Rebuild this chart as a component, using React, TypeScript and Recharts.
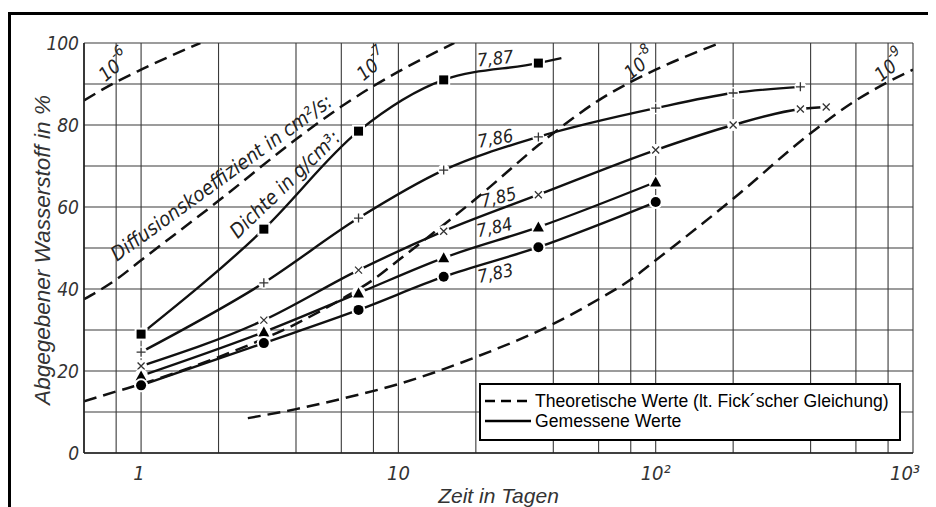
import React from 'react';
import { LineChart, Line, XAxis, YAxis, CartesianGrid, Legend, ReferenceDot } from 'recharts';

// ---------- axis ticks ----------
const xGridTicks = [0.6, 0.8, 1, 2, 4, 6, 8, 10, 20, 40, 60, 80, 100, 200, 400, 600, 800, 1000];
const xTickText: Record<string, string> = { '1': '1', '10': '10', '100': '10²', '1000': '10³' };
const yGridTicks = [0, 10, 20, 30, 40, 50, 60, 70, 80, 90, 100];
const yTickText: Record<string, string> = { '0': '0', '20': '20', '40': '40', '60': '60', '80': '80', '100': '100' };

const xTitle = 'Zeit in Tagen';
const yTitle = 'Abgegebener Wasserstoff in %';
const legendLabels = ['Theoretische Werte (lt. Fick´scher Gleichung)', 'Gemessene Werte'];

// ---------- measured values (Gemessene Werte) ----------
const days787 = [1, 3, 7, 15, 35, 43];
const vals787 = [29, 54.6, 78.5, 91, 95.1, 96.3];
const mark787 = [true, true, true, true, true, false];

const days786 = [1, 3, 7, 15, 35, 100, 200, 365];
const vals786 = [24.6, 41.5, 57.3, 69, 77.1, 84.1, 87.8, 89.3];

const days785 = [1, 3, 7, 15, 35, 100, 200, 365, 460];
const vals785 = [21.2, 32.4, 44.6, 54.1, 63, 73.9, 80, 83.9, 84.4];

const days784 = [1, 3, 7, 15, 35, 100];
const vals784 = [18.8, 29.5, 39, 47.6, 55.1, 66.1];

const days783 = [1, 3, 7, 15, 35, 100];
const vals783 = [16.5, 26.8, 34.9, 43, 50.2, 61.2];

// ---------- theoretical values (Fick) ----------
const daysD6 = [0.6, 0.8, 1, 1.7];
const valsD6 = [86, 90.5, 93.5, 100];

const daysD7 = [0.6, 0.8, 1, 2, 4, 6, 8, 10, 16.5];
const valsD7 = [37.5, 42.3, 47, 61.5, 76.5, 84.5, 89.5, 93, 100];

const daysD8 = [0.6, 0.8, 1, 2, 4, 6, 8, 10, 20, 40, 60, 80, 100, 178];
const valsD8 = [12.6, 15, 16.8, 23.4, 31.5, 37.5, 42.3, 47, 62, 78, 86, 90.5, 93.5, 100];

const daysD9 = [2.6, 4, 6, 10, 20, 40, 60, 80, 100, 200, 400, 600, 800, 1000];
const valsD9 = [8.5, 10.7, 13.2, 16.8, 23.4, 31.5, 37.5, 42.3, 47, 62, 78, 86, 90.5, 93.5];

// ---------- annotation labels (text, anchor in data units, angle) ----------
const densityLabels = ['7,87', '7,86', '7,85', '7,84', '7,83'];
const densityAtDay = [23.8, 23.8, 24.5, 23.6, 23.8];
const densityAtPct = [96.3, 76.8, 62.4, 55.1, 43.9];
const densityAngle = [-6, -10, -14, -12, -12];

const coefExp = ['-6', '-7', '-8', '-9'];
const coefAtDay = [0.785, 7.9, 86.7, 814];
const coefAtPct = [94.4, 94.6, 94.9, 94.4];

const noteTexts = ['Diffusionskoeffizient in cm²/s:', 'Dichte in g/cm³:'];
const noteAtDay = [2.05, 3.62];
const noteAtPct = [67.2, 65.6];
const noteAngle = [-36, -44];

const zip = (xs: number[], ys: number[], ms?: boolean[]) =>
  xs.map((x, i) => ({ x, y: ys[i], m: ms ? ms[i] : true }));

const measured = [
  { name: '7,87', data: zip(days787, vals787, mark787), shape: 'square' },
  { name: '7,86', data: zip(days786, vals786), shape: 'plus' },
  { name: '7,85', data: zip(days785, vals785), shape: 'cross' },
  { name: '7,84', data: zip(days784, vals784), shape: 'triangle' },
  { name: '7,83', data: zip(days783, vals783), shape: 'circle' },
];
const theoretical = [
  { name: 'D6', data: zip(daysD6, valsD6) },
  { name: 'D7', data: zip(daysD7, valsD7) },
  { name: 'D8', data: zip(daysD8, valsD8) },
  { name: 'D9', data: zip(daysD9, valsD9) },
];

const NARROW = "'DejaVu Sans Condensed', 'Liberation Sans Narrow', 'Liberation Sans', sans-serif";
const SANS = "'Liberation Sans', Arial, sans-serif";
const INK = '#111';

const Marker = (props: any) => {
  const { cx, cy, shape, show } = props;
  if (cx == null || cy == null || !show) return null;
  switch (shape) {
    case 'square':
      return (
        <g>
          <rect x={cx - 6.5} y={cy - 6.5} width={13} height={13} fill="#fff" />
          <rect x={cx - 4.5} y={cy - 4.5} width={9} height={9} fill="#000" />
        </g>
      );
    case 'plus':
      return (
        <g>
          <circle cx={cx} cy={cy} r={6} fill="#fff" />
          <path d={`M${cx - 4.5},${cy}H${cx + 4.5}M${cx},${cy - 4.5}V${cy + 4.5}`} stroke="#333" strokeWidth={1.3} />
        </g>
      );
    case 'cross':
      return (
        <g>
          <circle cx={cx} cy={cy} r={6} fill="#fff" />
          <path d={`M${cx - 3.5},${cy - 3.5}L${cx + 3.5},${cy + 3.5}M${cx + 3.5},${cy - 3.5}L${cx - 3.5},${cy + 3.5}`} stroke="#333" strokeWidth={1.3} />
        </g>
      );
    case 'triangle':
      return (
        <g>
          <circle cx={cx} cy={cy} r={7} fill="#fff" />
          <polygon points={`${cx},${cy - 5.5} ${cx + 5.5},${cy + 4.5} ${cx - 5.5},${cy + 4.5}`} fill="#000" />
        </g>
      );
    default:
      return (
        <g>
          <circle cx={cx} cy={cy} r={7} fill="#fff" />
          <circle cx={cx} cy={cy} r={5} fill="#000" />
        </g>
      );
  }
};

const XTick = (props: any) => {
  const { x, y, payload } = props;
  const t = xTickText[String(payload.value)];
  if (!t) return null;
  const shift = payload.value >= 1000 ? -8 : payload.value === 1 ? -2 : 0;
  return (
    <text x={x + shift} y={y + 27} textAnchor="middle" fontFamily={NARROW} fontStyle="italic" fontSize={20} fill="#333">
      {t}
    </text>
  );
};

const YTick = (props: any) => {
  const { x, y, payload } = props;
  const t = yTickText[String(payload.value)];
  if (!t) return null;
  return (
    <text x={x - 5} y={y + 7} textAnchor="end" fontFamily={NARROW} fontStyle="italic" fontSize={19} fill="#333">
      {t}
    </text>
  );
};

const LegendBox = () => (
  <div style={{ boxSizing: 'border-box', width: 422, height: 58, border: '2px solid #000', background: '#fff' }}>
    <svg width={418} height={54} style={{ display: 'block' }}>
      <line x1={4} x2={50} y1={16} y2={16} stroke="#000" strokeWidth={2.4} strokeDasharray="10 6" />
      <text x={54} y={22} fontFamily={SANS} fontSize={17.6} fill="#000">{legendLabels[0]}</text>
      <line x1={4} x2={50} y1={36} y2={36} stroke="#000" strokeWidth={2.4} />
      <text x={54} y={42} fontFamily={SANS} fontSize={17.6} fill="#000">{legendLabels[1]}</text>
    </svg>
  </div>
);

const rotText = (text: React.ReactNode, angle: number, size: number, family = NARROW) => (p: any) => {
  const { cx, cy } = p;
  if (cx == null || cy == null) return <g />;
  return (
    <text
      x={cx}
      y={cy}
      textAnchor="middle"
      dominantBaseline="central"
      transform={`rotate(${angle} ${cx} ${cy})`}
      fontFamily={family}
      fontStyle="italic"
      fontSize={size}
      fill="#222"
    >
      {text}
    </text>
  );
};

export default function App() {
  return (
    <div style={{ position: 'relative', width: 928, height: 499 }}>
      <style>{'body{overflow:hidden;}'}</style>
      <div
        style={{
          position: 'absolute',
          left: 0,
          top: 4,
          width: 940,
          height: 520,
          borderTop: '3px solid #000',
          borderLeft: '3px solid #000',
          boxSizing: 'border-box',
        }}
      />
      <LineChart width={928} height={499} margin={{ top: 35, right: 23, left: 16, bottom: 24 }}>
        <CartesianGrid stroke="#3a3a3a" strokeWidth={1.1} />
        <XAxis
          type="number"
          dataKey="x"
          scale="log"
          domain={[0.6, 1000]}
          allowDataOverflow
          ticks={xGridTicks}
          interval={0}
          tickSize={0}
          tickMargin={0}
          height={30}
          axisLine={{ stroke: '#222', strokeWidth: 1.6 }}
          tickLine={false}
          tick={<XTick />}
          label={(p: any) => {
            const vb = p.viewBox || {};
            return (
              <text x={vb.x + vb.width / 2} y={vb.y + 50} textAnchor="middle" fontFamily={SANS} fontStyle="italic" fontSize={21} fill="#333">
                {xTitle}
              </text>
            );
          }}
        />
        <YAxis
          type="number"
          dataKey="y"
          domain={[0, 100]}
          allowDataOverflow
          ticks={yGridTicks}
          interval={0}
          tickSize={0}
          tickMargin={0}
          width={60}
          axisLine={{ stroke: '#222', strokeWidth: 1.6 }}
          tickLine={false}
          tick={<YTick />}
          label={(p: any) => {
            const vb = p.viewBox || {};
            const cx = vb.x + 18;
            const cy = vb.y + vb.height / 2 + 2;
            return (
              <text x={cx} y={cy} textAnchor="middle" dominantBaseline="central" transform={`rotate(-90 ${cx} ${cy})`} fontFamily={SANS} fontStyle="italic" fontSize={22.5} fill="#333">
                {yTitle}
              </text>
            );
          }}
        />
        {theoretical.map((s) => (
          <Line
            key={s.name}
            data={s.data}
            dataKey="y"
            type="monotone"
            stroke={INK}
            strokeWidth={2.5}
            strokeDasharray="13 7"
            dot={false}
            activeDot={false}
            isAnimationActive={false}
            legendType="none"
          />
        ))}
        {measured.map((s) => (
          <Line
            key={s.name}
            data={s.data}
            dataKey="y"
            type="monotone"
            stroke={INK}
            strokeWidth={2.4}
            dot={(p: any) => <Marker key={`${s.name}-${p.index}`} cx={p.cx} cy={p.cy} shape={s.shape} show={p.payload && p.payload.m} />}
            activeDot={false}
            isAnimationActive={false}
            legendType="none"
          />
        ))}
        {densityLabels.map((t, i) => (
          <ReferenceDot key={t} x={densityAtDay[i]} y={densityAtPct[i]} r={0} ifOverflow="visible" shape={rotText(t, densityAngle[i], 18)} />
        ))}
        {coefExp.map((e, i) => (
          <ReferenceDot
            key={e}
            x={coefAtDay[i]}
            y={coefAtPct[i]}
            r={0}
            ifOverflow="visible"
            shape={rotText(
              <>
                <tspan>10</tspan>
                <tspan dy={-9} fontSize={14}>{e}</tspan>
              </>,
              -40,
              19,
            )}
          />
        ))}
        {noteTexts.map((t, i) => (
          <ReferenceDot key={t} x={noteAtDay[i]} y={noteAtPct[i]} r={0} ifOverflow="visible" shape={rotText(t, noteAngle[i], 20)} />
        ))}
        <Legend
          layout="vertical"
          align="center"
          verticalAlign="middle"
          content={<LegendBox />}
          wrapperStyle={{ left: 471, top: 375, width: 422, height: 58 }}
        />
      </LineChart>
    </div>
  );
}
